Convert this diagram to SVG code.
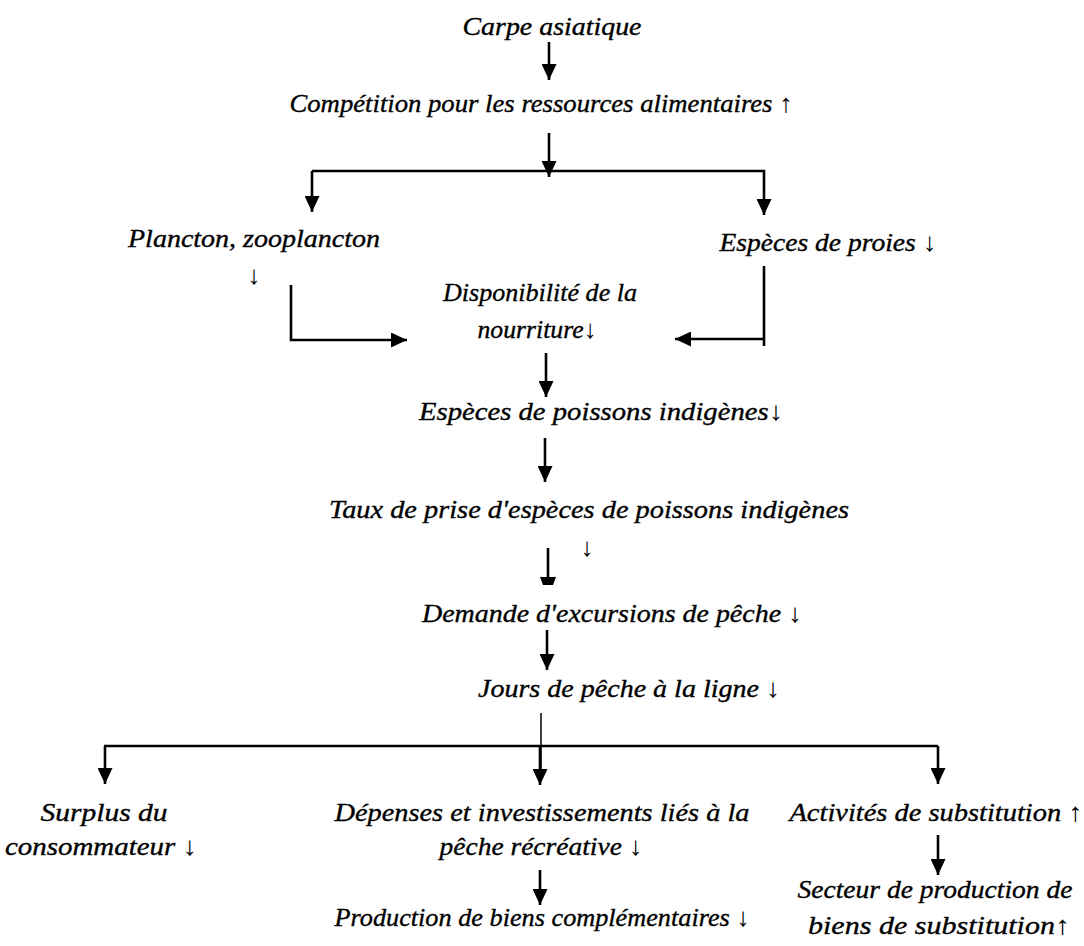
<svg xmlns="http://www.w3.org/2000/svg" width="1084" height="946" viewBox="0 0 1084 946">
<style>
text{font-family:"Liberation Serif","DejaVu Serif",serif;font-style:italic;font-size:26px;fill:#000;stroke:#000;stroke-width:0.35;text-anchor:middle;}
.ar{font-style:normal;stroke-width:0;}
.ln{stroke:#000;stroke-width:2.6;fill:none;}
.thin{stroke:#000;stroke-width:1.5;fill:none;}
</style>
<defs>
<marker id="ah" markerUnits="userSpaceOnUse" viewBox="0 0 16 15" refX="16" refY="7.5" markerWidth="16" markerHeight="15" orient="auto">
<path d="M0,0 L16,7.5 L0,15 Z" fill="#000"/>
</marker>
</defs>
<rect width="1084" height="946" fill="#fff"/>
<g id="connectors">
<line class="ln" x1="549" y1="42" x2="549" y2="80" marker-end="url(#ah)"/>
<line class="ln" x1="549" y1="133" x2="549" y2="177" marker-end="url(#ah)"/>
<polyline class="ln" points="312,171 764,171 764,215" marker-end="url(#ah)"/>
<line class="ln" x1="312" y1="171" x2="312" y2="212" marker-end="url(#ah)"/>
<polyline class="ln" points="291,285 291,340 407,340" marker-end="url(#ah)"/>
<line class="ln" x1="764" y1="266" x2="764" y2="346"/>
<line class="ln" x1="764" y1="339" x2="675" y2="339" marker-end="url(#ah)"/>
<line class="ln" x1="546" y1="353" x2="546" y2="397" marker-end="url(#ah)"/>
<line class="ln" x1="545" y1="438" x2="545" y2="482" marker-end="url(#ah)"/>
<line class="ln" x1="548" y1="548" x2="548" y2="580"/>
<polygon points="540,577 556,577 553,585 543,585" fill="#000"/>
<line class="ln" x1="547" y1="630" x2="547" y2="670" marker-end="url(#ah)"/>
<line class="thin" x1="541" y1="713" x2="541" y2="770"/>
<line class="ln" x1="104" y1="746" x2="938" y2="746"/>
<line class="ln" x1="105" y1="746" x2="105" y2="784" marker-end="url(#ah)"/>
<line class="ln" x1="540" y1="746" x2="540" y2="785" marker-end="url(#ah)"/>
<line class="ln" x1="938" y1="746" x2="938" y2="784" marker-end="url(#ah)"/>
<line class="ln" x1="540" y1="870" x2="540" y2="905" marker-end="url(#ah)"/>
<line class="ln" x1="938" y1="835" x2="938" y2="875" marker-end="url(#ah)"/>
</g>
<g id="n-carpe"><text x="552" y="35" textLength="179" lengthAdjust="spacingAndGlyphs">Carpe asiatique</text></g>
<g id="n-competition"><text x="541" y="112" textLength="503" lengthAdjust="spacingAndGlyphs">Compétition pour les ressources alimentaires <tspan class="ar">↑</tspan></text></g>
<g id="n-plancton"><text x="254" y="247" textLength="252" lengthAdjust="spacingAndGlyphs">Plancton, zooplancton</text><text class="ar" x="254" y="284">↓</text></g>
<g id="n-proies"><text x="828" y="251" textLength="217" lengthAdjust="spacingAndGlyphs">Espèces de proies <tspan class="ar">↓</tspan></text></g>
<g id="n-disponibilite"><text x="540" y="301" textLength="194" lengthAdjust="spacingAndGlyphs">Disponibilité de la</text><text x="537" y="338" textLength="119" lengthAdjust="spacingAndGlyphs">nourriture<tspan class="ar">↓</tspan></text></g>
<g id="n-especes"><text x="601" y="420" textLength="364" lengthAdjust="spacingAndGlyphs">Espèces de poissons indigènes<tspan class="ar">↓</tspan></text></g>
<g id="n-taux"><text x="589" y="518" textLength="520" lengthAdjust="spacingAndGlyphs">Taux de prise d'espèces de poissons indigènes</text><text class="ar" x="587" y="556">↓</text></g>
<g id="n-demande"><text x="612" y="622" textLength="380" lengthAdjust="spacingAndGlyphs">Demande d'excursions de pêche <tspan class="ar">↓</tspan></text></g>
<g id="n-jours"><text x="629" y="697" textLength="302" lengthAdjust="spacingAndGlyphs">Jours de pêche à la ligne <tspan class="ar">↓</tspan></text></g>
<g id="n-surplus"><text x="104" y="821" textLength="127" lengthAdjust="spacingAndGlyphs">Surplus du</text><text x="101" y="855" textLength="192" lengthAdjust="spacingAndGlyphs">consommateur <tspan class="ar">↓</tspan></text></g>
<g id="n-depenses"><text x="542" y="821" textLength="415" lengthAdjust="spacingAndGlyphs">Dépenses et investissements liés à la</text><text x="541" y="855" textLength="203" lengthAdjust="spacingAndGlyphs">pêche récréative <tspan class="ar">↓</tspan></text></g>
<g id="n-production"><text x="542" y="926" textLength="415" lengthAdjust="spacingAndGlyphs">Production de biens complémentaires <tspan class="ar">↓</tspan></text></g>
<g id="n-activites"><text x="936" y="821" textLength="293" lengthAdjust="spacingAndGlyphs">Activités de substitution <tspan class="ar">↑</tspan></text></g>
<g id="n-secteur"><text x="935" y="898" textLength="275" lengthAdjust="spacingAndGlyphs">Secteur de production de</text><text x="939" y="934" textLength="262" lengthAdjust="spacingAndGlyphs">biens de substitution<tspan class="ar">↑</tspan></text></g>
</svg>
